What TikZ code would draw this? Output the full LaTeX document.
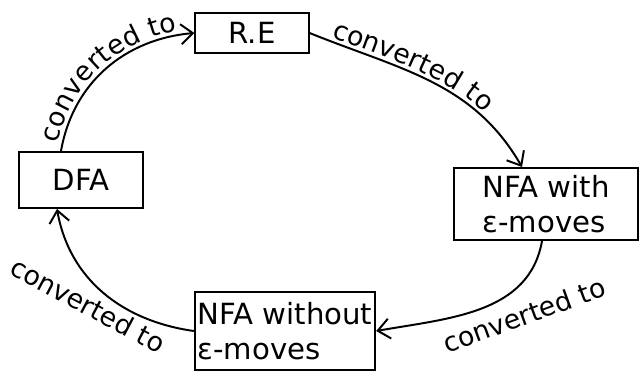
\documentclass[tikz,border=0pt]{standalone}
\usepackage{fontspec}
\setmainfont{DejaVu Sans}
\usetikzlibrary{arrows.meta, positioning, decorations.text}
\newcommand{\ConvTo}{converted to}
\newcommand{\ConvFont}{\fontsize{19}{22}\selectfont}
\newcommand{\EpsMoves}{ε-moves}

\begin{document}
\begin{tikzpicture}[x=0.025cm, y=-0.025cm, ->, >={Straight Barb[length=3mm, width=5mm]},
  line width=1.4pt,
  box/.style={draw, rectangle, inner sep=2pt, font=\huge},
  conv/.style={inner sep=0pt, font=\ConvFont},
  convpath/.style={decorate, decoration={text along path, raise=3pt,
      text={|\ConvFont|\ConvTo}, text align={left indent=#1}}}]
  \useasboundingbox (0,0) rectangle (639,374);

  \node[box, minimum width=2.83cm, minimum height=1.0cm]  (RE)    at (252,33)  {R.E};
  \node[box, minimum width=3.08cm, minimum height=1.4cm]  (DFA)   at (81,180)  {DFA};
  \node[box, minimum width=4.6cm, minimum height=1.8cm, align=left]  (NFAw)  at (546,204) {NFA with\\\EpsMoves};
  \node[box, minimum width=4.38cm, minimum height=1.93cm, align=left] (NFAwo) at (285,331) {NFA without\\\EpsMoves};

  % labels below the cycle
  \node[conv, rotate=20]  (convC) at (524,315) {\ConvTo};
  \node[conv, rotate=-28] (convD) at (88,305)  {\ConvTo};

  \draw ([xshift=-5mm]DFA.north) to[out=80, in=185] (RE.west);
  \draw (RE.east) to[out=-22, in=120] ([xshift=-6mm]NFAw.north);
  \draw ([xshift=-1mm]NFAw.south) to[out=-100, in=10] (NFAwo.east);
  \draw (NFAwo.west) to[out=172, in=-80] ([xshift=-6mm]DFA.south);

  % labels along the top arcs
  \path[convpath=0.15cm] ([xshift=-5mm]DFA.north) to[out=80, in=185] (RE.west);
  \path[convpath=0.55cm] (RE.east) to[out=-22, in=120] ([xshift=-6mm]NFAw.north);
\end{tikzpicture}
\end{document}
